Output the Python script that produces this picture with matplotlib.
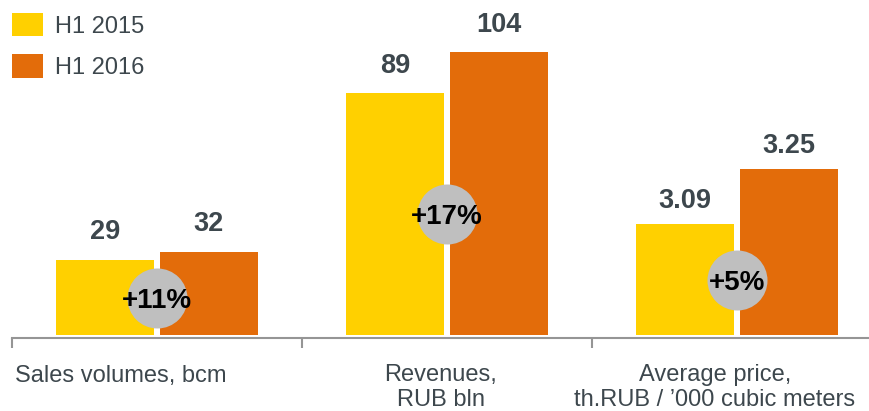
import numpy as np
import matplotlib
matplotlib.use('Agg')
import matplotlib.pyplot as plt

categories = ['Sales volumes, bcm', 'Revenues,\nRUB bln', 'Average price,\nth.RUB / \u2019000 cubic meters']
series_names = ['H1 2015', 'H1 2016']
values_2015 = [29, 89, 3.09]
values_2016 = [32, 104, 3.25]
value_labels_2015 = ['29', '89', '3.09']
value_labels_2016 = ['32', '104', '3.25']
changes = ['+11%', '+17%', '+5%']
# each group has its own hidden value axis (the price one does not start at zero)
group_ranges = [(0, 129.7), (0, 123.3), (2.773, 3.733)]

yellow = '#FFD000'
orange = '#E36C0A'
text_color = '#3D474D'
axis_color = '#959595'

plt.rcParams['font.family'] = ['Liberation Sans', 'DejaVu Sans']

W, H = 870, 411
PT = 0.72  # points per pixel at 100 dpi
fig = plt.figure(figsize=(W / 100, H / 100), dpi=100)
ax = fig.add_axes([12 / W, (H - 335) / H, (W - 12) / W, 335 / H])

lo = np.array([r[0] for r in group_ranges])
hi = np.array([r[1] for r in group_ranges])
h15 = (np.array(values_2015) - lo) / (hi - lo)
h16 = (np.array(values_2016) - lo) / (hi - lo)

x = np.arange(len(categories)) + 0.5
bar_w = 0.338
off = 0.179
ax.bar(x - off, h15, bar_w, color=yellow, label=series_names[0], zorder=2)
ax.bar(x + off, h16, bar_w, color=orange, label=series_names[1], zorder=2)

label_gap = [21, 20, 16]
for i in range(len(categories)):
    ax.annotate(value_labels_2015[i], (x[i] - off, h15[i]), xytext=(0, label_gap[i] * PT),
                textcoords='offset points', ha='center', va='baseline',
                fontsize=19.5, fontweight='bold', color=text_color)
    ax.annotate(value_labels_2016[i], (x[i] + off, h16[i]), xytext=(0, label_gap[i] * PT),
                textcoords='offset points', ha='center', va='baseline',
                fontsize=19.5, fontweight='bold', color=text_color)
    cy = min(h15[i], h16[i]) / 2
    ax.scatter([x[i]], [cy], s=(60 * PT) ** 2, color='#BFBFBF', zorder=3, linewidths=0)
    ax.text(x[i], cy, changes[i], ha='center', va='center_baseline', fontsize=20,
            fontweight='bold', color='black', zorder=4)

label_x = [0.376, 1.479, 2.424]
for lx, cat in zip(label_x, categories):
    n = cat.count('\n')
    ax.annotate(cat, (lx, 0), xycoords=('data', 'axes fraction'),
                xytext=(0, -(47 + 24 * n) * PT), textcoords='offset points',
                ha='center', va='baseline', fontsize=17, color=text_color,
                linespacing=1.17, multialignment='center', annotation_clip=False)

ax.set_xlim(0, (W - 12) / 290)
ax.set_ylim(0, 1)
for s in ['top', 'right', 'left']:
    ax.spines[s].set_visible(False)
ax.spines['bottom'].set_position(('outward', 2))
ax.spines['bottom'].set_color(axis_color)
ax.spines['bottom'].set_linewidth(1.5)
ax.set_yticks([])
ax.set_xticks([0, 1, 2])
ax.set_xticklabels([])
ax.tick_params(axis='x', direction='out', length=7.2, width=1.5, color=axis_color)

leg = ax.legend(loc='upper left', bbox_to_anchor=(12 / W, 1 - 13 / H),
                bbox_transform=fig.transFigure, frameon=False, fontsize=17,
                handlelength=1.31, handleheight=1.15, handletextpad=0.5,
                labelspacing=0.7, borderpad=0, borderaxespad=0)
for t in leg.get_texts():
    t.set_color(text_color)

fig.savefig('out.png', dpi=100)
